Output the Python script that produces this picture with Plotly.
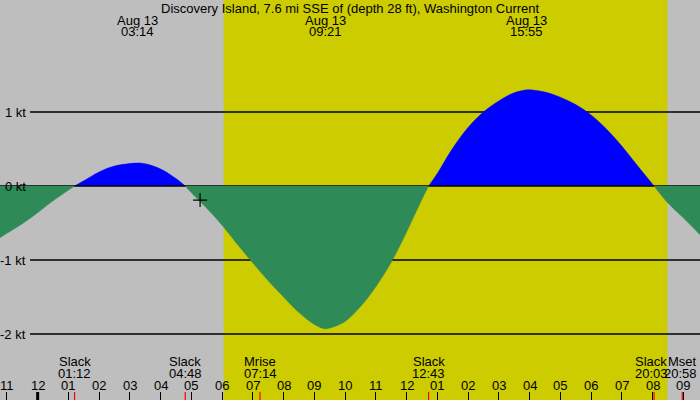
import plotly.graph_objects as go
import pandas as pd

# current speed (kt), flood positive
times = [
    "2024-08-12 22:46", "2024-08-12 23:00", "2024-08-12 23:30", "2024-08-13 00:00",
    "2024-08-13 00:30", "2024-08-13 01:12", "2024-08-13 01:30", "2024-08-13 02:00",
    "2024-08-13 02:30", "2024-08-13 03:14", "2024-08-13 03:30", "2024-08-13 04:00",
    "2024-08-13 04:30", "2024-08-13 04:48", "2024-08-13 05:00", "2024-08-13 05:30",
    "2024-08-13 06:00", "2024-08-13 06:30", "2024-08-13 07:00", "2024-08-13 07:30",
    "2024-08-13 08:00", "2024-08-13 08:30", "2024-08-13 09:00", "2024-08-13 09:21",
    "2024-08-13 09:30", "2024-08-13 10:00", "2024-08-13 10:30", "2024-08-13 11:00",
    "2024-08-13 11:30", "2024-08-13 12:00", "2024-08-13 12:30", "2024-08-13 12:43",
    "2024-08-13 13:00", "2024-08-13 13:30", "2024-08-13 14:00", "2024-08-13 14:30",
    "2024-08-13 15:00", "2024-08-13 15:30", "2024-08-13 15:55", "2024-08-13 16:00",
    "2024-08-13 16:30", "2024-08-13 17:00", "2024-08-13 17:30", "2024-08-13 18:00",
    "2024-08-13 18:30", "2024-08-13 19:00", "2024-08-13 19:30", "2024-08-13 20:03",
    "2024-08-13 20:30", "2024-08-13 21:00", "2024-08-13 21:33",
]
speeds = [
    -0.70, -0.64, -0.51, -0.36,
    -0.20, 0.0, 0.07, 0.19,
    0.27, 0.31, 0.30, 0.23,
    0.10, 0.0, -0.09, -0.30,
    -0.53, -0.79, -1.04, -1.28,
    -1.50, -1.71, -1.87, -1.93,
    -1.92, -1.83, -1.63, -1.36,
    -1.03, -0.62, -0.18, 0.0,
    0.17, 0.51, 0.79, 1.00,
    1.15, 1.26, 1.30, 1.30,
    1.27, 1.20, 1.10, 0.96,
    0.77, 0.54, 0.28, 0.0,
    -0.23, -0.43, -0.66,
]

title = "Discovery Island, 7.6 mi SSE of (depth 28 ft), Washington Current"
sunrise = "2024-08-13 06:03"
sunset = "2024-08-13 20:29"

peak_times = ["2024-08-13 03:14", "2024-08-13 09:21", "2024-08-13 15:55"]
peak_dates = ["Aug 13", "Aug 13", "Aug 13"]
peak_labels = ["03:14", "09:21", "15:55"]

event_times = ["2024-08-13 01:12", "2024-08-13 04:48", "2024-08-13 07:14",
               "2024-08-13 12:43", "2024-08-13 20:03", "2024-08-13 20:58"]
event_names = ["Slack", "Slack", "Mrise", "Slack", "Slack", "Mset"]
event_labels = ["01:12", "04:48", "07:14", "12:43", "20:03", "20:58"]

hour_labels = ["11", "12", "01", "02", "03", "04", "05", "06", "07", "08", "09", "10",
               "11", "12", "01", "02", "03", "04", "05", "06", "07", "08", "09"]
hour_times = pd.date_range("2024-08-12 23:00", periods=len(hour_labels), freq="h")
midnight = "2024-08-13 00:00"

level_values = [1, 0, -1, -2]
level_labels = ["1 kt", "0 kt", "-1 kt", "-2 kt"]

now_time = "2024-08-13 05:17"
now_speed = -0.19

FONT = "Liberation Sans"
W, H = 700, 400

fig = go.Figure()

# split the curve at the slacks into flood / ebb pieces
pieces = []
cur_x, cur_y = [], []
for t, v in zip(times, speeds):
    cur_x.append(t)
    cur_y.append(v)
    if v == 0 and len(cur_x) > 1:
        pieces.append((cur_x, cur_y))
        cur_x, cur_y = [t], [v]
pieces.append((cur_x, cur_y))

floods = [p for p in pieces if sum(p[1]) > 0]
ebbs = [p for p in pieces if sum(p[1]) <= 0]

for px, py in floods:
    fig.add_trace(go.Scatter(x=px, y=py, mode="lines", fill="tozeroy",
                             fillcolor="#0000ff",
                             line={"color": "#0000ff", "width": 0.5, "shape": "spline"},
                             hoverinfo="skip", showlegend=False))

# zero line sits over the flood fill but under the ebb fill
fig.add_trace(go.Scatter(x=[times[0], times[-1]], y=[0, 0], mode="lines",
                         line={"color": "black", "width": 1.5},
                         hoverinfo="skip", showlegend=False))

for px, py in ebbs:
    fig.add_trace(go.Scatter(x=px, y=py, mode="lines", fill="tozeroy",
                             fillcolor="#2e8b57",
                             line={"color": "#2e8b57", "width": 0.5, "shape": "spline"},
                             hoverinfo="skip", showlegend=False))

fig.add_trace(go.Scatter(x=[now_time], y=[now_speed], mode="markers",
                         marker={"symbol": "cross-thin", "size": 10,
                                 "line": {"color": "black", "width": 1.2}},
                         hoverinfo="skip", showlegend=False))

shapes = [
    {"type": "rect", "xref": "x", "yref": "paper", "x0": sunrise, "x1": sunset,
     "y0": 0, "y1": 1, "fillcolor": "#cccc00", "line": {"width": 0}, "layer": "below"}
]
for lv in level_values:
    if lv == 0:
        continue
    shapes.append({"type": "line", "xref": "paper", "yref": "y", "x0": 30 / W, "x1": 1,
                   "y0": lv, "y1": lv, "line": {"color": "black", "width": 1.5},
                   "layer": "below"})
for et in event_times:
    shapes.append({"type": "line", "xref": "x", "yref": "paper", "x0": et, "x1": et,
                   "y0": 0, "y1": 8 / H, "line": {"color": "red", "width": 1.2}})
shapes.append({"type": "line", "xref": "x", "yref": "paper", "x0": midnight, "x1": midnight,
               "y0": 0, "y1": 8 / H, "line": {"color": "black", "width": 3}})

font = {"family": FONT, "size": 13, "color": "black"}
annotations = [
    {"x": 0.5, "y": 1 - 8 / H, "xref": "paper", "yref": "paper", "text": title,
     "showarrow": False, "xanchor": "center", "yanchor": "middle", "font": font}
]
for pt, pdate, pl in zip(peak_times, peak_dates, peak_labels):
    annotations.append({"x": pt, "y": 1 - 20 / H, "xref": "x", "yref": "paper", "text": pdate,
                        "showarrow": False, "yanchor": "middle", "font": font})
    annotations.append({"x": pt, "y": 1 - 31.5 / H, "xref": "x", "yref": "paper", "text": pl,
                        "showarrow": False, "yanchor": "middle", "font": font})

# the last two labels are nudged apart so they do not collide
event_anchor = ["center", "center", "center", "center", "center", "right"]
event_shift = [0, 0, 0, 0, -3, 17]
for et, en, el, anc, sh in zip(event_times, event_names, event_labels, event_anchor, event_shift):
    annotations.append({"x": et, "y": 1 - 361.5 / H, "xref": "x", "yref": "paper", "text": en,
                        "showarrow": False, "xanchor": anc, "yanchor": "middle",
                        "xshift": sh, "font": font})
    annotations.append({"x": et, "y": 1 - 373.3 / H, "xref": "x", "yref": "paper", "text": el,
                        "showarrow": False, "xanchor": anc, "yanchor": "middle",
                        "xshift": sh, "font": font})

for ht, hl in zip(hour_times, hour_labels):
    annotations.append({"x": ht, "y": 1 - 385.2 / H, "xref": "x", "yref": "paper", "text": hl,
                        "showarrow": False, "yanchor": "middle", "font": font})

for lv, ll in zip(level_values, level_labels):
    annotations.append({"x": 28 / W, "y": lv, "xref": "paper", "yref": "y", "text": ll,
                        "showarrow": False, "xanchor": "right", "yanchor": "middle",
                        "font": font})

fig.update_layout(
    width=W, height=H,
    margin={"t": 0, "r": 0, "l": 0, "b": 0},
    paper_bgcolor="#bebebe",
    plot_bgcolor="#bebebe",
    showlegend=False,
    hovermode=False,
    shapes=shapes,
    annotations=annotations,
    xaxis={
        "type": "date",
        "range": ["2024-08-12 22:46:30", "2024-08-13 21:32:40"],
        "showgrid": False, "zeroline": False, "showline": False,
        "ticks": "inside", "ticklen": 8, "tickwidth": 1, "tickcolor": "black",
        "tick0": "2024-08-13 00:00", "dtick": 3600000,
        "showticklabels": False,
    },
    yaxis={
        "range": [-2.892, 2.514],
        "showgrid": False, "zeroline": False, "showline": False,
        "showticklabels": False, "ticks": "",
    },
)

# drop the page's default body margin so the chart sits at the window's corner
fig.write_html("out.html", config={"displayModeBar": False},
               post_script="document.body.style.margin='0';")
